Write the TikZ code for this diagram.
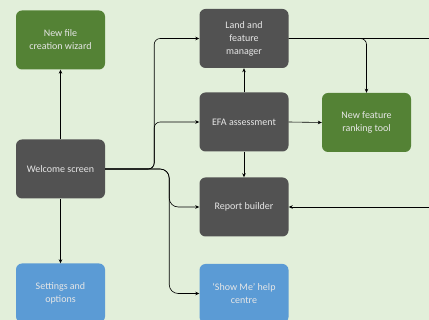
\documentclass[tikz,border=0pt]{standalone}
\usepackage{fontspec}
\setmainfont{Carlito}
\usetikzlibrary{arrows.meta}
\definecolor{bg}{HTML}{E2EFDA}
\definecolor{darkbox}{HTML}{525252}
\definecolor{greenbox}{HTML}{548235}
\definecolor{bluebox}{HTML}{5B9BD5}
\definecolor{lighttext}{HTML}{E6E6E6}
\tikzset{
  box/.style={rounded corners=6pt, minimum width=89pt, minimum height=59pt, align=center,
    font=\fontsize{10}{13}\selectfont, inner sep=2pt},
  darkb/.style={box, fill=darkbox, text=lighttext},
  greenb/.style={box, fill=greenbox, text=lighttext},
  blueb/.style={box, fill=bluebox, text=lighttext},
  conn/.style={draw=black, line width=0.6pt},
  arr/.style={conn, -{Stealth[length=4pt,width=3.5pt]}},
}
\begin{document}
\begin{tikzpicture}[x=1pt,y=-1pt]
\useasboundingbox (0,0) rectangle (429,320);
\clip (0,0) rectangle (429,320);
\fill[bg] (0,0) rectangle (429,320);

\node[greenb] (wiz) at (60.5,40) {New file\\creation wizard};
\node[darkb] (wel) at (60.5,169) {Welcome screen};
\node[blueb] (set) at (60.5,293) {Settings and\\options};
\node[darkb] (land) at (244,38.5) {Land and\\feature\\manager};
\node[darkb] (efa) at (244,122) {EFA assessment};
\node[greenb] (newf) at (366.5,122.5) {New feature\\ranking tool};
\node[darkb] (rep) at (244,207) {Report builder};
\node[blueb] (show) at (244,293.5) {‘Show Me’ help\\centre};

\coordinate (r1) at (429,38.5);
\coordinate (r2) at (429,207);

\draw[arr] (wel.north) -- (wiz.south);
\draw[arr] (wel.south) -- (set.north);
\draw[arr] (efa.north) -- (land.south);
\draw[arr] (efa.south) -- (rep.north);
\draw[arr] (efa.east) -- (newf.west);

\draw[arr, rounded corners=6pt] (wel.east) -- ++(49,0) |- (land.west);
\draw[arr, rounded corners=6pt] (wel.east) -- ++(49,0) |- (efa.west);
\draw[arr, rounded corners=9pt] (wel.east) -- ++(64,0) |- (rep.west);
\draw[arr, rounded corners=9pt] (wel.east) -- ++(64,0) |- (show.west);

\draw[conn] (land.east) -- (r1);
\draw[arr, rounded corners=6pt] (land.east) -| (newf.north);
\draw[arr] (r2) -- (rep.east);
\end{tikzpicture}
\end{document}
